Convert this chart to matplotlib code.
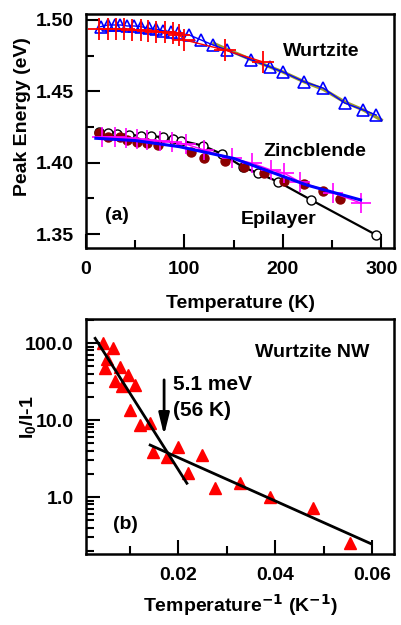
import matplotlib
matplotlib.use('Agg')
import matplotlib.pyplot as plt
from matplotlib.ticker import MultipleLocator, LogLocator, FormatStrFormatter, NullFormatter

plt.rcParams['font.family'] = ['Liberation Sans', 'DejaVu Sans']
plt.rcParams['font.weight'] = 'bold'
plt.rcParams['mathtext.fontset'] = 'custom'
plt.rcParams['mathtext.rm'] = 'Liberation Sans:bold'
plt.rcParams['mathtext.bf'] = 'Liberation Sans:bold'
plt.rcParams['mathtext.default'] = 'bf'

# Painel (a): energia de pico x temperatura
wz_t = [15, 22, 29, 35, 42, 49, 56, 64, 71, 78, 86, 93, 105, 117, 129, 143,
        168, 187, 200, 222, 241, 263, 282, 295]
wz_e = [1.4953, 1.4965, 1.4965, 1.4965, 1.4958, 1.4958, 1.4953, 1.4942, 1.4935,
        1.4925, 1.4918, 1.4907, 1.4895, 1.4860, 1.4825, 1.4790,
        1.4720, 1.4671, 1.4636, 1.4566, 1.4523, 1.4418, 1.4369, 1.4334]

wz2_t = [13, 22, 30, 39, 47, 56, 63, 71, 80, 88, 95, 100, 141, 180]
wz2_e = [1.4935, 1.4935, 1.4935, 1.4935, 1.4930, 1.4930, 1.4925, 1.4918, 1.4914,
         1.4907, 1.4895, 1.4860, 1.4790, 1.4706]

wz_fit_t = [130, 143, 168, 187, 200, 222, 241, 263, 282, 300]
wz_fit_e = [1.4835, 1.4795, 1.4722, 1.4671, 1.4636, 1.4566, 1.4515, 1.4425, 1.4369, 1.4300]

epi_t = [13, 22, 32, 44, 56, 66, 78, 88, 97, 119, 138, 160, 175, 195, 229, 295]
epi_e = [1.4217, 1.4206, 1.4201, 1.4194, 1.4189, 1.4187, 1.4178, 1.4166, 1.4154,
         1.4119, 1.4061, 1.3968, 1.3926, 1.3867, 1.3738, 1.3493]

zb_t = [13, 22, 35, 42, 52, 62, 73, 107, 120, 141, 161, 181, 201, 222, 241, 258]
zb_e = [1.4206, 1.4182, 1.4178, 1.4159, 1.4147, 1.4140, 1.4124, 1.4077, 1.4031,
        1.4014, 1.3968, 1.3928, 1.3872, 1.3851, 1.3804, 1.3744]

zb2_t = [16, 29, 41, 52, 62, 75, 87, 102, 120, 148, 169, 188, 201, 217, 251, 279]
zb2_e = [1.4182, 1.4178, 1.4171, 1.4166, 1.4159, 1.4154, 1.4147, 1.4129, 1.4089,
         1.4031, 1.3996, 1.3949, 1.3928, 1.3867, 1.3788, 1.3718]

zb_fit_t = [10, 50, 95, 150, 224, 279]
zb_fit_e = [1.4171, 1.4155, 1.4112, 1.4030, 1.3844, 1.3739]

# Painel (b): I0/I-1 x 1/T
inv_t = [0.00460, 0.00666, 0.00530, 0.00495, 0.00804, 0.00975, 0.00701, 0.00839,
         0.01113, 0.01010, 0.01216, 0.01423, 0.01491, 0.01767, 0.02006, 0.02212,
         0.02489, 0.02763, 0.03278, 0.03897, 0.04790, 0.05546]
ratio = [100.9, 85.3, 61.4, 46.9, 49.2, 38.4, 32.1, 27.6, 28.5, 13.5, 8.61, 9.06,
         3.87, 3.33, 4.50, 2.03, 3.51, 1.30, 1.51, 1.01, 0.713, 0.255]

steep_x = [0.00289, 0.0218]
steep_y = [115.0, 1.51]
shallow_x = [0.01423, 0.0596]
shallow_y = [4.73, 0.25]

fig = plt.figure(figsize=(4.01, 6.25), dpi=100)
ax1 = fig.add_axes([86/401, 1-248/625, 308/401, 234/625])
ax2 = fig.add_axes([86/401, 1-554/625, 308/401, 235/625])

# --- painel (a) ---
ax1.plot(wz_t, wz_e, '-', color='blue', lw=1, marker='^', ms=8.5,
         mfc='none', mec='blue', mew=1.2, zorder=3)
ax1.plot(wz_fit_t, wz_fit_e, '-', color='#9c9a2c', lw=2.4, zorder=2)
ax1.plot(wz2_t, wz2_e, '-', color='red', lw=1, marker='+', ms=16, mew=1.3, zorder=4)

ax1.plot(epi_t, epi_e, '-', color='black', lw=1.6, marker='o', ms=6.5,
         mfc='white', mec='black', mew=1, zorder=2)
ax1.plot(zb_t, zb_e, 'o', color='#8b0000', ms=6.5, zorder=3)
ax1.plot(zb2_t, zb2_e, '-', color='magenta', lw=1, marker='+', ms=15, mew=1.2, zorder=4)
ax1.plot(zb_fit_t, zb_fit_e, '-', color='blue', lw=2.2, zorder=5)

ax1.text(239, 1.4776, 'Wurtzite', fontsize=14, ha='center', va='center')
ax1.text(233, 1.4075, 'Zincblende', fontsize=14, ha='center', va='center')
ax1.text(196, 1.3605, 'Epilayer', fontsize=14, ha='center', va='center')
ax1.text(31, 1.3627, '(a)', fontsize=14, ha='center', va='center')

ax1.set_xlim(0, 313)
ax1.set_ylim(1.3402, 1.5042)
ax1.xaxis.set_major_locator(MultipleLocator(100))
ax1.xaxis.set_minor_locator(MultipleLocator(50))
ax1.yaxis.set_major_locator(MultipleLocator(0.05))
ax1.yaxis.set_minor_locator(MultipleLocator(0.025))
ax1.yaxis.set_major_formatter(FormatStrFormatter('%.2f'))
ax1.set_xlabel('Temperature (K)', fontsize=14, fontweight='bold')
ax1.set_ylabel('Peak Energy (eV)', fontsize=14, fontweight='bold')
ax1.xaxis.set_label_coords(0.5, -0.2)
ax1.yaxis.set_label_coords(-0.18, 0.56)

# --- painel (b) ---
ax2.plot(inv_t, ratio, '^', color='red', ms=9, zorder=3)
ax2.plot(steep_x, steep_y, '-', color='black', lw=2, zorder=4)
ax2.plot(shallow_x, shallow_y, '-', color='black', lw=2, zorder=4)
ax2.set_yscale('log')

ax2.annotate('', xy=(0.0171, 5.83), xytext=(0.0171, 36.1),
             arrowprops=dict(arrowstyle='-|>,head_length=1.3,head_width=0.32',
                             color='black', lw=2), zorder=5)
ax2.text(0.0190, 28.5, '5.1 meV', fontsize=15, ha='left', va='center')
ax2.text(0.0190, 13.1, '(56 K)', fontsize=15, ha='left', va='center')
ax2.text(0.0359, 76.4, 'Wurtzite NW', fontsize=14, ha='left', va='center')
ax2.text(0.0091, 0.446, '(b)', fontsize=14, ha='center', va='center')

ax2.set_xlim(0.001, 0.0645)
ax2.set_ylim(0.182, 205)
ax2.xaxis.set_major_locator(MultipleLocator(0.02))
ax2.xaxis.set_minor_locator(MultipleLocator(0.01))
ax2.xaxis.set_major_formatter(FormatStrFormatter('%.2f'))
ax2.yaxis.set_major_locator(LogLocator(base=10, numticks=10))
ax2.yaxis.set_minor_locator(LogLocator(base=10, subs=range(2, 10), numticks=10))
ax2.yaxis.set_major_formatter(FormatStrFormatter('%.1f'))
ax2.yaxis.set_minor_formatter(NullFormatter())
ax2.set_xlabel('Temperature$^{\\mathsf{-1}}$ (K$^{\\mathsf{-1}}$)', fontsize=14, fontweight='bold')
ax2.set_ylabel(r'I$_0$/I-1', fontsize=14, fontweight='bold')
ax2.xaxis.set_label_coords(0.5, -0.166)
ax2.yaxis.set_label_coords(-0.156, 0.58)

# Estilo comum dos eixos
for ax in (ax1, ax2):
    for s in ax.spines.values():
        s.set_linewidth(1.8)
    ax.tick_params(which='both', direction='in', top=False, right=False,
                   width=1.5, labelsize=14, pad=9)
    ax.tick_params(which='major', length=10)
    ax.tick_params(which='minor', length=5.5)
    for lab in ax.get_xticklabels() + ax.get_yticklabels():
        lab.set_fontweight('bold')

fig.savefig('out.png', dpi=100)
